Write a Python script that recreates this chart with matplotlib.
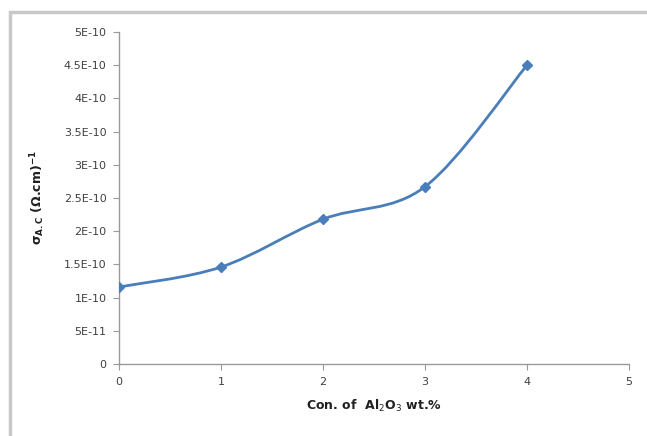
import matplotlib.pyplot as plt
import numpy as np
from matplotlib.path import Path
from matplotlib.patches import PathPatch, Rectangle

# data
conc = [0, 1, 2, 3, 4]
sigma = [1.16e-10, 1.46e-10, 2.18e-10, 2.67e-10, 4.50e-10]
yticks = [0, 5e-11, 1e-10, 1.5e-10, 2e-10, 2.5e-10, 3e-10, 3.5e-10, 4e-10, 4.5e-10, 5e-10]
ylabels = ['0', '5E-11', '1E-10', '1.5E-10', '2E-10', '2.5E-10', '3E-10',
           '3.5E-10', '4E-10', '4.5E-10', '5E-10']

blue = '#4a7ebb'

fig = plt.figure(figsize=(6.47, 4.36), dpi=100)
fig.patches.append(Rectangle((10 / 647, -0.1), 1.2, 1 - 12 / 436 + 0.1,
                             transform=fig.transFigure, facecolor='white',
                             edgecolor='#c8c8c8', linewidth=2.5, zorder=-1))
ax = fig.add_axes([119 / 647, 1 - 364 / 436, 510 / 647, 332 / 436])
ax.patch.set_alpha(0)

# smoothed line like Excel (Catmull-Rom style bezier between points)
x = np.array(conc, dtype=float)
y = np.array(sigma)
verts = [(x[0], y[0])]
codes = [Path.MOVETO]
t = 1 / 6
for i in range(len(x) - 1):
    x0, y0 = (x[i - 1], y[i - 1]) if i > 0 else (x[i], y[i])
    x3, y3 = (x[i + 2], y[i + 2]) if i + 2 < len(x) else (x[i + 1], y[i + 1])
    c1 = (x[i] + (x[i + 1] - x0) * t, y[i] + (y[i + 1] - y0) * t)
    c2 = (x[i + 1] - (x3 - x[i]) * t, y[i + 1] - (y3 - y[i]) * t)
    verts += [c1, c2, (x[i + 1], y[i + 1])]
    codes += [Path.CURVE4] * 3
ax.add_patch(PathPatch(Path(verts, codes), facecolor='none', edgecolor=blue,
                       linewidth=2.0, zorder=2))
ax.plot(conc, sigma, linestyle='none', marker='D', markersize=5, color=blue, zorder=3)

ax.set_xlim(0, 5)
ax.set_ylim(0, 5e-10)
ax.set_xticks([0, 1, 2, 3, 4, 5])
ax.set_yticks(yticks)
ax.set_yticklabels(ylabels)
for s in ['top', 'right']:
    ax.spines[s].set_visible(False)
for s in ['left', 'bottom']:
    ax.spines[s].set_color('#999999')
    ax.spines[s].set_linewidth(1.0)
ax.tick_params(direction='out', length=4, color='#999999', labelsize=8,
               labelcolor='#404040', pad=5)

ax.set_xlabel(r'Con. of  Al$_2$O$_3$ wt.%', fontsize=9, fontweight='bold',
              color='#202020', labelpad=8)
ax.set_ylabel(r'$\mathbf{\sigma_{A.C}}$ (Ω.cm)$^{\mathbf{-1}}$', fontsize=9,
              fontweight='bold', color='#202020', labelpad=12)

fig.savefig('out.png', dpi=100)
